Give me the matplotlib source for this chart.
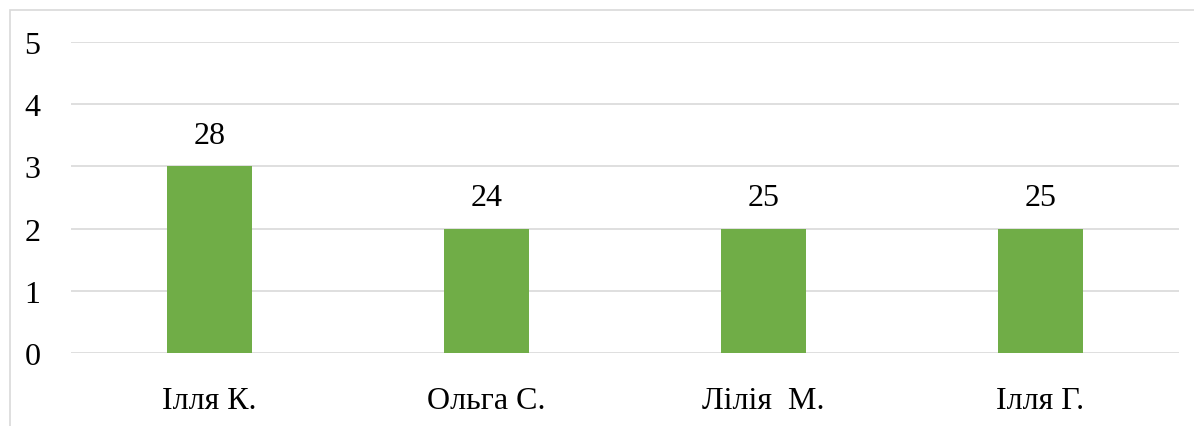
import matplotlib
matplotlib.use("Agg")
import matplotlib.pyplot as plt
from matplotlib.patches import Rectangle

categories = ["Ілля К.", "Ольга С.", "Лілія  М.", "Ілля Г."]
values = [3, 2, 2, 2]
bar_labels = ["28", "24", "25", "25"]
yticks = [0, 1, 2, 3, 4, 5]

plt.rcParams['font.family'] = ['Liberation Serif', 'DejaVu Serif']

W, H = 1194, 427
fig = plt.figure(figsize=(W / 100, H / 100), dpi=100)
fig.patch.set_facecolor('white')

# outer chart border (right and bottom edges lie outside the image)
fig.patches.append(Rectangle((10 / W, -0.1), 1.1, 1.1 - 11 / H,
                             transform=fig.transFigure, fill=False,
                             edgecolor='#D9D9D9', linewidth=1.2))

ax = fig.add_axes([71 / W, 1 - 354 / H, (1179 - 71) / W, (354 - 43) / H])
x = range(len(categories))
bars = ax.bar(x, values, width=0.31, color='#70AD47', zorder=3)
ax.set_xlim(-0.5, len(categories) - 0.5)
ax.set_ylim(0, 5)
ax.set_yticks(yticks)
ax.set_xticks(list(x))
ax.set_xticklabels(categories)
ax.grid(axis='y', color='#D9D9D9', linewidth=1.2, zorder=0)
for s in ax.spines.values():
    s.set_visible(False)
ax.tick_params(axis='both', length=0, labelsize=23, colors='#000000')
ax.tick_params(axis='x', pad=24)
ax.tick_params(axis='y', pad=22)

for b, lab in zip(bars, bar_labels):
    ax.annotate(lab, (b.get_x() + b.get_width() / 2, b.get_height()),
                xytext=(0, 12), textcoords='offset points',
                ha='center', va='bottom', fontsize=23)

fig.savefig('out.png', dpi=100)
